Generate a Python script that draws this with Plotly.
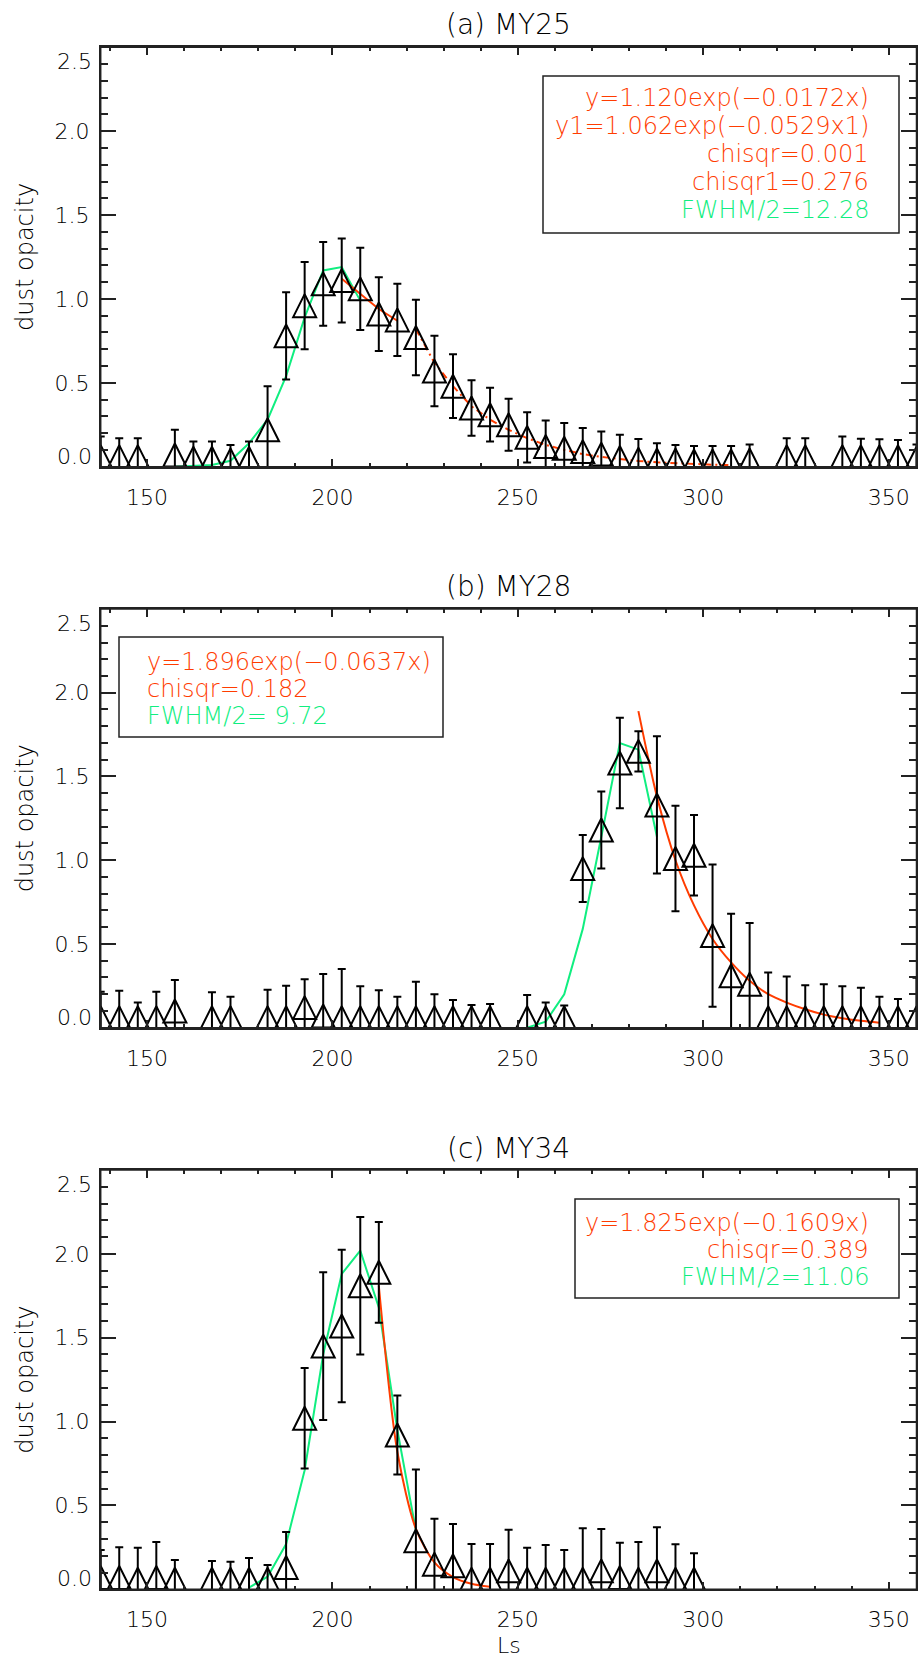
import plotly.graph_objects as go

# ---------------- data ----------------
LS = [137.5, 142.5, 147.5, 152.5, 157.5, 162.5, 167.5, 172.5, 177.5, 182.5,
      187.5, 192.5, 197.5, 202.5, 207.5, 212.5, 217.5, 222.5, 227.5, 232.5,
      237.5, 242.5, 247.5, 252.5, 257.5, 262.5, 267.5, 272.5, 277.5, 282.5,
      287.5, 292.5, 297.5, 302.5, 307.5, 312.5, 317.5, 322.5, 327.5, 332.5,
      337.5, 342.5, 347.5, 352.5, 357.5]

MY25_TAU = [0.06, 0.06, 0.06, None, 0.07, 0.05, 0.05, 0.04, 0.05, 0.22,
            0.78, 0.96, 1.09, 1.11, 1.06, 0.91, 0.875, 0.77, 0.57, 0.48,
            0.35, 0.31, 0.25, 0.175, 0.12, 0.11, 0.09, 0.075, 0.055, 0.045,
            0.04, 0.04, 0.035, 0.035, 0.035, 0.04, None, 0.06, 0.06, None,
            0.06, 0.06, 0.06, 0.06, 0.05]
MY25_ERR = [0.12, 0.11, 0.11, None, 0.15, 0.10, 0.10, 0.09, 0.10, 0.26,
            0.26, 0.26, 0.25, 0.25, 0.245, 0.22, 0.215, 0.225, 0.21, 0.19,
            0.165, 0.16, 0.155, 0.15, 0.155, 0.15, 0.14, 0.135, 0.135, 0.12,
            0.10, 0.09, 0.088, 0.088, 0.088, 0.093, None, 0.11, 0.11, None,
            0.12, 0.107, 0.103, 0.099, 0.083]
MY25_GAUSS = [0.0, 0.003, 0.01, 0.035, 0.14, 0.28, 0.54, 0.89, 1.17, 1.19, 0.99]
MY25_EXP = [1.12, 1.03, 0.94, 0.87]
MY25_EXP1 = [0.82, 0.62, 0.48, 0.36, 0.28, 0.22, 0.17, 0.13, 0.10, 0.075,
             0.058, 0.044, 0.034, 0.026, 0.020, 0.015, 0.012, 0.009]

MY28_TAU = [0.06, 0.06, 0.06, 0.06, 0.10, None, 0.06, 0.06, None, 0.06,
            0.06, 0.12, 0.07, 0.06, 0.06, 0.06, 0.06, 0.06, 0.06, 0.06,
            0.06, 0.06, None, 0.06, 0.06, 0.06, 0.95, 1.18, 1.58, 1.65,
            1.33, 1.01, 1.03, 0.55, 0.31, 0.26, 0.06, 0.06, 0.06, 0.06,
            0.06, 0.06, 0.06, 0.06, 0.06]
MY28_ERR = [0.155, 0.16, 0.09, 0.155, 0.185, None, 0.152, 0.125, None, 0.166,
            0.19, 0.17, 0.25, 0.29, 0.188, 0.164, 0.125, 0.214, 0.14, 0.105,
            0.075, 0.081, None, 0.135, 0.091, 0.072, 0.2, 0.23, 0.27, 0.12,
            0.41, 0.315, 0.24, 0.425, 0.37, 0.365, 0.27, 0.246, 0.194, 0.2,
            0.188, 0.178, 0.125, 0.111, 0.238]
MY28_GAUSS = [0.0, 0.036, 0.2, 0.59, 1.14, 1.70, 1.66, 1.14]
MY28_EXP = [1.89, 1.38, 1.00, 0.73, 0.53, 0.39, 0.28, 0.20, 0.15, 0.11,
            0.078, 0.057, 0.041, 0.03]

MY34_TAU = [0.07, 0.07, 0.06, 0.07, 0.06, None, 0.06, 0.06, 0.06, 0.06,
            0.13, 1.02, 1.45, 1.57, 1.81, 1.89, 0.92, 0.29, 0.15, 0.14,
            0.06, 0.06, 0.11, 0.06, 0.06, 0.06, 0.06, 0.11, 0.07, 0.06,
            0.11, 0.06, 0.06, None, None, None, None, None, None, None,
            None, None, None, None, None]
MY34_ERR = [0.164, 0.18, 0.188, 0.212, 0.115, None, 0.109, 0.105, 0.127, 0.085,
            0.212, 0.30, 0.44, 0.455, 0.41, 0.30, 0.235, 0.425, 0.27, 0.25,
            0.21, 0.21, 0.245, 0.188, 0.204, 0.174, 0.304, 0.25, 0.208, 0.222,
            0.26, 0.208, 0.155, None, None, None, None, None, None, None,
            None, None, None, None, None]
MY34_GAUSS = [0.01, 0.075, 0.27, 0.71, 1.40, 1.88, 2.02, 1.68, 0.95, 0.35]
MY34_EXP = [1.81, 0.82, 0.36, 0.16, 0.073, 0.033, 0.015]

TITLES = ["(a) MY25", "(b) MY28", "(c) MY34"]
X_TICKS = [150, 200, 250, 300, 350]
X_TICKTEXT = ["150", "200", "250", "300", "350"]
Y_TICKS = [0.0, 0.5, 1.0, 1.5, 2.0, 2.5]
Y_TICKTEXT = ["0.0", "0.5", "1.0", "1.5", "2.0", "2.5"]
Y_TITLE = "dust opacity"
X_TITLE = "Ls"

LEG_A = ["y=1.120exp(\u22120.0172x)", "y1=1.062exp(\u22120.0529x1)",
         "chisqr=0.001", "chisqr1=0.276", "FWHM/2=12.28"]
LEG_B = ["y=1.896exp(\u22120.0637x)", "chisqr=0.182", "FWHM/2= 9.72"]
LEG_C = ["y=1.825exp(\u22120.1609x)", "chisqr=0.389", "FWHM/2=11.06"]

# ---------------- style / geometry (window pixels) ----------------
W, H = 918, 1660
RED = "#ff3c00"
GREEN = "#10ee80"
FONT = "DejaVu Sans"
FW = 300
MSIZE = 23


def px(x):
    return x / W


def py(y):
    return 1 - y / H


X_LEFT, X_RIGHT = 100.7, 916.5
PANELS = [(47.3, 466.7), (609.0, 1027.7), (1170.0, 1589.3)]
TITLE_Y = [25, 586, 1148]

fig = go.Figure()

panel_data = [
    (MY25_TAU, MY25_ERR),
    (MY28_TAU, MY28_ERR),
    (MY34_TAU, MY34_ERR),
]

fits = [
    [
        dict(x=LS[4:15], y=MY25_GAUSS, color=GREEN, dash="solid", shape="linear"),
        dict(x=LS[13:17], y=MY25_EXP, color=RED, dash="solid", shape="linear"),
        dict(x=LS[17:35], y=MY25_EXP1, color=RED, dash="7px,4px,2px,4px", shape="linear"),
    ],
    [
        dict(x=LS[23:31], y=MY28_GAUSS, color=GREEN, dash="solid", shape="linear"),
        dict(x=LS[29:43], y=MY28_EXP, color=RED, dash="solid", shape="spline"),
    ],
    [
        dict(x=LS[8:18], y=MY34_GAUSS, color=GREEN, dash="solid", shape="linear"),
        dict(x=LS[15:22], y=MY34_EXP, color=RED, dash="solid", shape="spline"),
    ],
]

for i in range(3):
    xa = "x" if i == 0 else f"x{i+1}"
    ya = "y" if i == 0 else f"y{i+1}"
    for f in fits[i]:
        line = dict(color=f["color"], width=2, dash=f["dash"], shape=f["shape"])
        if f["shape"] == "spline":
            line["smoothing"] = 0.8
        fig.add_trace(go.Scatter(x=f["x"], y=f["y"], mode="lines", line=line,
                                 xaxis=xa, yaxis=ya, hoverinfo="skip"))
    tau, err = panel_data[i]
    fig.add_trace(go.Scatter(
        x=LS, y=tau, mode="markers", xaxis=xa, yaxis=ya, cliponaxis=True,
        marker=dict(symbol="arrow-down-open", angle=180, standoff=MSIZE / 2,
                    size=MSIZE, color="black", line=dict(width=2, color="black")),
        error_y=dict(type="data", array=err, color="black", thickness=2, width=4),
    ))

axis_font = dict(family=FONT, size=22, color="black", weight=FW)

layout = dict(
    width=W, height=H, margin=dict(l=0, r=0, t=0, b=0),
    paper_bgcolor="white", plot_bgcolor="white", showlegend=False,
    font=dict(family=FONT, color="black", weight=FW),
)

for i, (top, bot) in enumerate(PANELS):
    sfx = "" if i == 0 else str(i + 1)
    layout["xaxis" + sfx] = dict(
        domain=[px(X_LEFT), px(X_RIGHT)], anchor="y" + sfx,
        range=[LS[0], LS[-1]], showgrid=False, zeroline=False,
        showline=True, linecolor="#222", linewidth=1.5, mirror="allticks",
        ticks="inside", ticklen=8, tickwidth=1.5, tickcolor="#222",
        tickmode="array", tickvals=X_TICKS, ticktext=X_TICKTEXT,
        tickfont=axis_font, ticklabelstandoff=10,
        minor=dict(ticks="inside", ticklen=4, tickwidth=1.5, tickcolor="#222",
                   tickmode="linear", tick0=0, dtick=10, showgrid=False),
    )
    layout["yaxis" + sfx] = dict(
        domain=[py(bot), py(top)], anchor="x" + sfx,
        range=[Y_TICKS[0], Y_TICKS[-1]], showgrid=False, zeroline=False,
        showline=True, linecolor="#222", linewidth=1.5, mirror="allticks",
        ticks="inside", ticklen=16, tickwidth=1.5, tickcolor="#222",
        tickmode="array", tickvals=Y_TICKS[1:-1], ticktext=Y_TICKTEXT[1:-1],
        tickfont=axis_font, ticklabelstandoff=5,
        minor=dict(ticks="inside", ticklen=8, tickwidth=1.5, tickcolor="#222",
                   tickmode="linear", tick0=0, dtick=0.1, showgrid=False),
    )

fig.update_layout(**layout)

ann = []
shapes = []
for i, (top, bot) in enumerate(PANELS):
    sfx = "" if i == 0 else str(i + 1)
    ann.append(dict(text=TITLES[i], xref="paper", yref="paper",
                    x=px((X_LEFT + X_RIGHT) / 2), y=py(TITLE_Y[i]),
                    xanchor="center", yanchor="middle", showarrow=False,
                    font=dict(family=FONT, size=28, color="black", weight=FW)))
    ann.append(dict(text=Y_TITLE, xref="paper", yref="paper",
                    x=px(25), y=py((top + bot) / 2), textangle=-90,
                    xanchor="center", yanchor="middle", showarrow=False,
                    font=dict(family=FONT, size=24, color="black", weight=FW)))
    ann.append(dict(text=Y_TICKTEXT[0], xref="paper", yref="y" + sfx,
                    x=px(X_LEFT - 7), y=Y_TICKS[0], xanchor="right", yanchor="bottom",
                    yshift=-4, showarrow=False, font=axis_font))
    ann.append(dict(text=Y_TICKTEXT[-1], xref="paper", yref="y" + sfx,
                    x=px(X_LEFT - 7), y=Y_TICKS[-1], xanchor="right", yanchor="top",
                    yshift=0, showarrow=False, font=axis_font))
    shapes.append(dict(type="rect", xref=("x" + sfx) + " domain", yref=("y" + sfx) + " domain",
                       x0=0, x1=1, y0=0, y1=1, line=dict(color="#222", width=1.5),
                       fillcolor="rgba(0,0,0,0)", layer="above"))

ann.append(dict(text=X_TITLE, xref="paper", yref="paper",
                x=px((X_LEFT + X_RIGHT) / 2), y=py(1645), xanchor="center",
                yanchor="middle", showarrow=False, borderpad=0,
                font=dict(family=FONT, size=22, color="black", weight=FW)))

boxes = [
    dict(x0=543, x1=899, y0=76, y1=233, lines=LEG_A,
         colors=[RED, RED, RED, RED, GREEN], ys=[98, 126, 154, 182, 210],
         tx=871, anchor="right"),
    dict(x0=119, x1=443, y0=637, y1=737, lines=LEG_B,
         colors=[RED, RED, GREEN], ys=[662, 689, 716], tx=145, anchor="left"),
    dict(x0=575, x1=899, y0=1199, y1=1298, lines=LEG_C,
         colors=[RED, RED, GREEN], ys=[1223, 1250, 1277], tx=871, anchor="right"),
]
for b in boxes:
    shapes.append(dict(type="rect", xref="paper", yref="paper",
                       x0=px(b["x0"]), x1=px(b["x1"]), y0=py(b["y1"]), y1=py(b["y0"]),
                       line=dict(color="#222", width=1.5), fillcolor="rgba(0,0,0,0)"))
    for t, c, yy in zip(b["lines"], b["colors"], b["ys"]):
        ann.append(dict(text=t, xref="paper", yref="paper", x=px(b["tx"]), y=py(yy),
                        xanchor=b["anchor"], yanchor="middle", showarrow=False,
                        font=dict(family=FONT, size=24, color=c, weight=FW)))

fig.update_layout(annotations=ann, shapes=shapes)
fig.write_html(
    "out.html",
    config={"displayModeBar": False},
    post_script="document.body.style.margin='0';document.body.style.overflow='hidden';",
)
